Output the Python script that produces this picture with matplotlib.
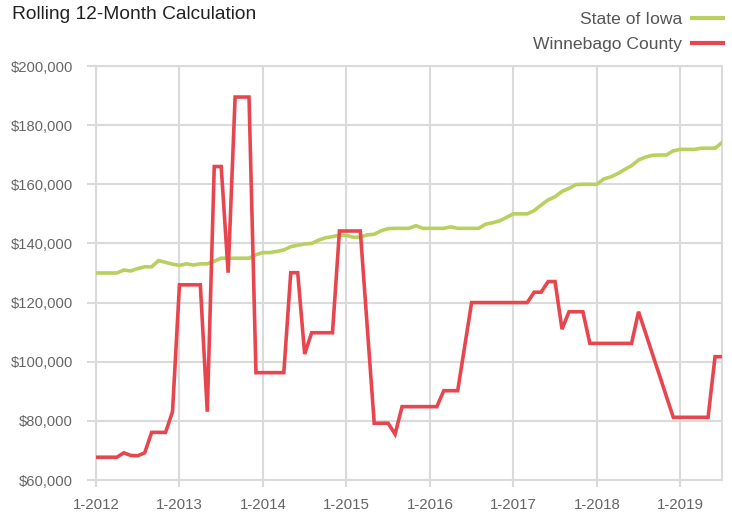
import matplotlib
matplotlib.use("Agg")
import matplotlib.pyplot as plt
from matplotlib.ticker import FuncFormatter

plt.rcParams['font.family'] = ['Liberation Sans', 'DejaVu Sans']

# Monthly rolling values, Jan 2012 .. Jul 2019
iowa = [130000, 130000, 130000, 130000, 131000, 130700, 131500, 132100, 132100, 134200,
        133600, 133000, 132600, 133100, 132700, 133100, 133100, 134000, 135000, 135000,
        135000, 135000, 135000, 136200, 136900, 136900, 137300, 137800, 138900, 139400,
        139800, 140000, 141100, 141900, 142300, 142800, 142700, 142100, 142100, 142900,
        143100, 144300, 145000, 145100, 145100, 145100, 146000, 145100, 145100, 145100,
        145100, 145600, 145100, 145100, 145100, 145100, 146500, 147000, 147600, 148800,
        150000, 150000, 150000, 151100, 153000, 154700, 155800, 157600, 158600, 159900,
        160000, 160000, 160000, 161800, 162500, 163600, 165000, 166300, 168200, 169200,
        169800, 169900, 169900, 171300, 171800, 171800, 171800, 172200, 172200, 172200,
        174100]

winnebago = [67700, 67700, 67700, 67700, 69200, 68300, 68200, 69200, 76100, 76100,
             76100, 83100, 126000, 126000, 126000, 126000, 83100, 166000, 166000, 130100,
             189500, 189500, 189500, 96300, 96300, 96300, 96300, 96300, 130100, 130100,
             102600, 109800, 109800, 109800, 109800, 144200, 144200, 144200, 144200, 111700,
             79200, 79200, 79200, 75500, 84800, 84800, 84800, 84800, 84800, 84800,
             90200, 90200, 90200, 105100, 120000, 120000, 120000, 120000, 120000, 120000,
             120000, 120000, 120000, 123500, 123500, 127100, 127100, 111000, 116900, 116900,
             116900, 106200, 106200, 106200, 106200, 106200, 106200, 106200, 116900, 109800,
             102600, 95500, 88300, 81200, 81200, 81200, 81200, 81200, 81200, 101700,
             101700]

tick_labels = ['1-2012', '1-2013', '1-2014', '1-2015', '1-2016', '1-2017', '1-2018', '1-2019']
series_names = ['State of Iowa', 'Winnebago County']

W, H = 732, 515
fig = plt.figure(figsize=(W / 100, H / 100), dpi=100)
ax = fig.add_axes([96 / W, (H - 480) / H, (722 - 96) / W, (480 - 66) / H])

months = list(range(len(iowa)))
green = '#b8d05e'
red = '#e8464f'
grid_c = '#dadada'

ax.plot(months, iowa, color=green, lw=2.6, solid_joinstyle='miter', label=series_names[0], zorder=3)
ax.plot(months, winnebago, color=red, lw=2.6, solid_joinstyle='miter', label=series_names[1], zorder=4)

ax.set_xlim(0, len(iowa) - 1)
ax.set_ylim(60000, 200000)
ax.set_xticks([12 * i for i in range(len(tick_labels))])
ax.set_xticklabels(tick_labels)
ax.set_yticks(range(60000, 200001, 20000))
ax.yaxis.set_major_formatter(FuncFormatter(lambda v, p: '${:,.0f}'.format(v)))

ax.grid(True, color=grid_c, lw=1.5)
for s in ax.spines.values():
    s.set_color(grid_c)
    s.set_linewidth(1.5)
ax.tick_params(axis='y', length=6.5, width=1.5, color=grid_c, pad=10, labelsize=10.6, labelcolor='#666666')
ax.tick_params(axis='x', length=5, width=1.5, color=grid_c, pad=8, labelsize=10.8, labelcolor='#666666')

fig.text(12 / W, 1 - 19 / H, 'Rolling 12-Month Calculation', fontsize=13.8, color='#222222', va='baseline', ha='left')

leg = ax.legend(loc='upper right', bbox_to_anchor=(723 / W, 1 - 12 / H), bbox_transform=fig.transFigure,
                markerfirst=False, frameon=False, fontsize=12.6, handlelength=1.75, handletextpad=0.6,
                labelspacing=0.55, borderpad=0, borderaxespad=0, labelcolor='#555555')
for l in leg.get_lines():
    l.set_linewidth(3)

fig.savefig('out.png', dpi=100)
